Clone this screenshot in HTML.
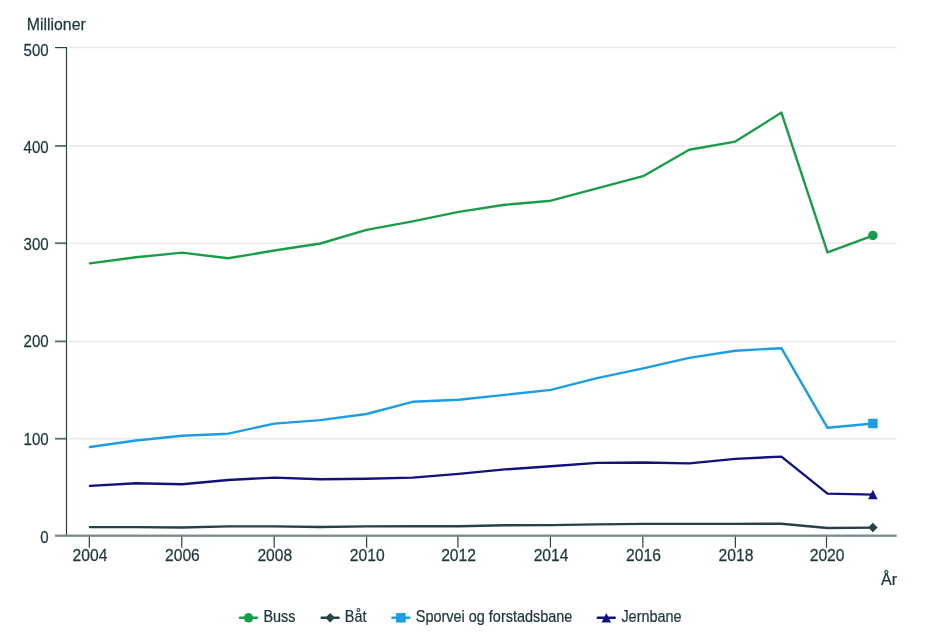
<!DOCTYPE html>
<html lang="nb"><head><meta charset="utf-8"><title>Kollektivtransport</title>
<style>html,body{margin:0;padding:0;background:#fff}body{width:931px;height:643px;overflow:hidden}svg{display:block;font-family:"Liberation Sans",Arial,sans-serif}</style></head><body>
<svg width="931" height="643" viewBox="0 0 931 643">
<rect width="931" height="643" fill="#fff"/>
<g stroke="#e9e9e9" stroke-width="1.5">
<line x1="69" y1="47.60" x2="896.70" y2="47.60"/>
<line x1="69" y1="145.90" x2="896.70" y2="145.90"/>
<line x1="69" y1="243.20" x2="896.70" y2="243.20"/>
<line x1="69" y1="341.40" x2="896.70" y2="341.40"/>
<line x1="69" y1="438.70" x2="896.70" y2="438.70"/>
</g>
<g stroke="#274247" stroke-width="1.2">
<line x1="55" y1="47.60" x2="67.10" y2="47.60"/>
<line x1="55" y1="145.90" x2="66.00" y2="145.90" stroke="#5f7174" stroke-width="1.9"/>
<line x1="55" y1="243.20" x2="66.00" y2="243.20" stroke="#5f7174" stroke-width="1.9"/>
<line x1="55" y1="341.40" x2="66.00" y2="341.40" stroke="#5f7174" stroke-width="1.9"/>
<line x1="55" y1="438.70" x2="66.00" y2="438.70" stroke="#5f7174" stroke-width="1.9"/>
<line x1="66.50" y1="47.00" x2="66.50" y2="535.70"/>
<line x1="89.33" y1="534.70" x2="89.33" y2="547.7"/>
<line x1="181.78" y1="534.70" x2="181.78" y2="547.7"/>
<line x1="274.19" y1="534.70" x2="274.19" y2="547.7"/>
<line x1="366.63" y1="534.70" x2="366.63" y2="547.7"/>
<line x1="457.92" y1="534.70" x2="457.92" y2="547.7"/>
<line x1="550.43" y1="534.70" x2="550.43" y2="547.7"/>
<line x1="642.84" y1="534.70" x2="642.84" y2="547.7"/>
<line x1="735.36" y1="534.70" x2="735.36" y2="547.7"/>
<line x1="826.50" y1="534.70" x2="826.50" y2="547.7"/>
</g>
<rect x="55" y="534.55" width="841.70" height="2.3" fill="#7b8a8b"/>
<path d="M89.90 263.40 L136.00 257.30 L182.10 252.60 L228.20 258.30 L274.30 250.50 L320.40 243.50 L366.50 229.90 L412.60 221.40 L458.70 211.90 L504.80 204.80 L550.90 200.70 L597.00 188.30 L643.10 176.20 L689.20 149.70 L735.30 141.60 L781.40 112.60 L827.50 252.30 L873.60 235.40" fill="none" stroke="#1a9d49" stroke-width="2.4" stroke-linejoin="round" stroke-linecap="round"/>
<path d="M89.90 527.10 L136.00 527.10 L182.10 527.50 L228.20 526.40 L274.30 526.40 L320.40 527.00 L366.50 526.40 L412.60 526.30 L458.70 526.30 L504.80 525.20 L550.90 525.10 L597.00 524.40 L643.10 523.90 L689.20 523.90 L735.30 523.90 L781.40 523.70 L827.50 528.00 L873.60 527.60" fill="none" stroke="#274247" stroke-width="2.4" stroke-linejoin="round" stroke-linecap="round"/>
<path d="M89.90 447.00 L136.00 440.50 L182.10 435.80 L228.20 433.70 L274.30 423.60 L320.40 420.10 L366.50 414.00 L412.60 401.80 L458.70 399.80 L504.80 394.90 L550.90 389.90 L597.00 378.20 L643.10 368.40 L689.20 357.90 L735.30 350.70 L781.40 348.20 L827.50 427.80 L873.60 423.50" fill="none" stroke="#1d9de2" stroke-width="2.4" stroke-linejoin="round" stroke-linecap="round"/>
<path d="M89.90 485.90 L136.00 483.30 L182.10 484.30 L228.20 480.00 L274.30 477.60 L320.40 479.20 L366.50 478.70 L412.60 477.60 L458.70 473.90 L504.80 469.40 L550.90 466.30 L597.00 462.90 L643.10 462.50 L689.20 463.40 L735.30 458.90 L781.40 456.60 L827.50 493.60 L873.60 494.60" fill="none" stroke="#12127f" stroke-width="2.4" stroke-linejoin="round" stroke-linecap="round"/>
<circle cx="872.90" cy="235.40" r="4.76" fill="#1a9d49"/>
<path d="M872.90 522.84 L877.66 527.60 L872.90 532.36 L868.14 527.60 Z" fill="#274247"/>
<rect x="868.14" y="418.74" width="9.52" height="9.52" fill="#1d9de2"/>
<path d="M872.90 489.84 L877.66 499.36 L868.14 499.36 Z" fill="#12127f"/>
<g fill="#1f363b" stroke="#1f363b" stroke-width="0.25">
<text transform="translate(26.80 30.30) scale(0.96 1)" font-size="16.5">Millioner</text>
<text transform="translate(48.70 56.00) scale(0.875 1)" font-size="17.2" text-anchor="end">500</text>
<text transform="translate(48.70 152.90) scale(0.875 1)" font-size="17.2" text-anchor="end">400</text>
<text transform="translate(48.70 250.00) scale(0.875 1)" font-size="17.2" text-anchor="end">300</text>
<text transform="translate(48.70 347.20) scale(0.875 1)" font-size="17.2" text-anchor="end">200</text>
<text transform="translate(48.70 444.70) scale(0.875 1)" font-size="17.2" text-anchor="end">100</text>
<text transform="translate(48.70 543.00) scale(0.875 1)" font-size="17.2" text-anchor="end">0</text>
<text transform="translate(89.93 560.70) scale(0.905 1)" font-size="17.3" text-anchor="middle">2004</text>
<text transform="translate(182.38 560.70) scale(0.905 1)" font-size="17.3" text-anchor="middle">2006</text>
<text transform="translate(274.79 560.70) scale(0.905 1)" font-size="17.3" text-anchor="middle">2008</text>
<text transform="translate(367.23 560.70) scale(0.905 1)" font-size="17.3" text-anchor="middle">2010</text>
<text transform="translate(458.52 560.70) scale(0.905 1)" font-size="17.3" text-anchor="middle">2012</text>
<text transform="translate(551.03 560.70) scale(0.905 1)" font-size="17.3" text-anchor="middle">2014</text>
<text transform="translate(643.44 560.70) scale(0.905 1)" font-size="17.3" text-anchor="middle">2016</text>
<text transform="translate(735.96 560.70) scale(0.905 1)" font-size="17.3" text-anchor="middle">2018</text>
<text transform="translate(827.10 560.70) scale(0.905 1)" font-size="17.3" text-anchor="middle">2020</text>
<text transform="translate(897.10 584.60) scale(0.99 1)" font-size="16.2" text-anchor="end">År</text>
<text transform="translate(263.40 621.80) scale(0.915 1)" font-size="15.8">Buss</text>
<text transform="translate(344.80 621.80) scale(0.915 1)" font-size="15.8">Båt</text>
<text transform="translate(415.80 621.80) scale(0.915 1)" font-size="15.8">Sporvei og forstadsbane</text>
<text transform="translate(621.40 621.80) scale(0.915 1)" font-size="15.8">Jernbane</text>
</g>
<line x1="240.00" y1="617.80" x2="257.00" y2="617.80" stroke="#1a9d49" stroke-width="2.4" stroke-linecap="round"/>
<circle cx="248.50" cy="617.80" r="4.76" fill="#1a9d49"/>
<line x1="321.60" y1="617.80" x2="338.60" y2="617.80" stroke="#274247" stroke-width="2.4" stroke-linecap="round"/>
<path d="M330.10 613.04 L334.86 617.80 L330.10 622.56 L325.34 617.80 Z" fill="#274247"/>
<line x1="392.40" y1="617.80" x2="409.40" y2="617.80" stroke="#1d9de2" stroke-width="2.4" stroke-linecap="round"/>
<rect x="396.14" y="613.04" width="9.52" height="9.52" fill="#1d9de2"/>
<line x1="597.80" y1="617.80" x2="614.80" y2="617.80" stroke="#12127f" stroke-width="2.4" stroke-linecap="round"/>
<path d="M606.30 613.04 L611.06 622.56 L601.54 622.56 Z" fill="#12127f"/>
</svg></body></html>
